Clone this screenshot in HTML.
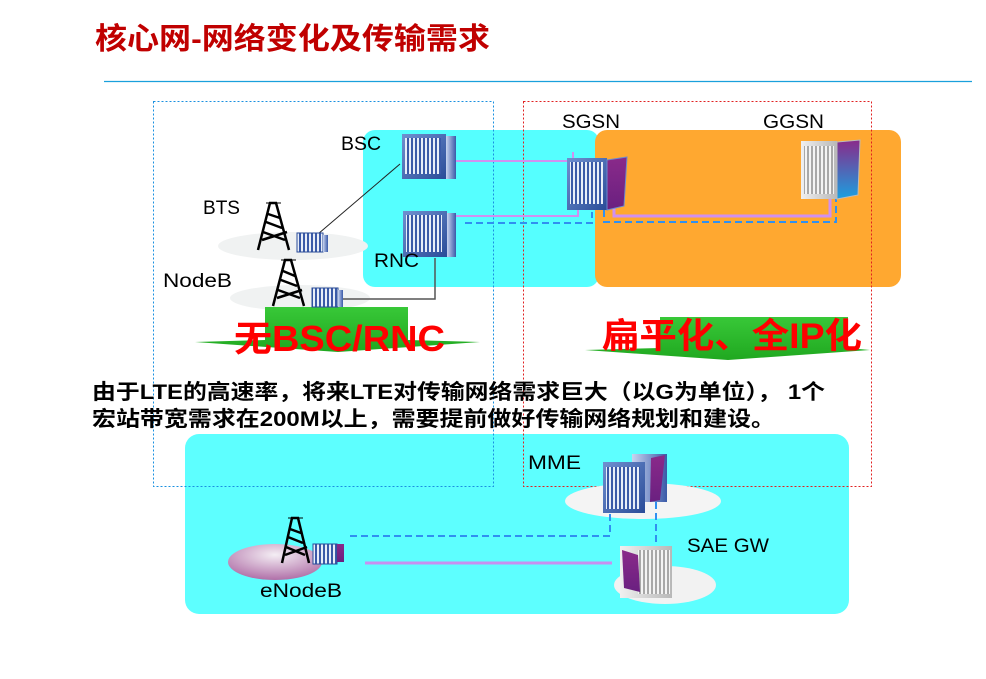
<!DOCTYPE html>
<html><head><meta charset="utf-8"><style>
html,body{margin:0;padding:0;background:#fff;}
svg{display:block;}
text{font-family:"Liberation Sans","Noto Sans CJK SC",sans-serif;}
</style></head><body>
<svg width="986" height="679" viewBox="0 0 986 679" xmlns="http://www.w3.org/2000/svg">
<defs>
<linearGradient id="bl" x1="0" y1="0" x2="1" y2="1"><stop offset="0" stop-color="#7090d0"/><stop offset="1" stop-color="#2a4c98"/></linearGradient>
<linearGradient id="side" x1="0" y1="0" x2="1" y2="0"><stop offset="0" stop-color="#c8d4f0"/><stop offset="1" stop-color="#3a5aa8"/></linearGradient>
<linearGradient id="pur" x1="0" y1="0" x2="0" y2="1"><stop offset="0" stop-color="#8a2a8a"/><stop offset="1" stop-color="#6a2080"/></linearGradient>
<linearGradient id="pb" x1="0" y1="0" x2="0" y2="1"><stop offset="0" stop-color="#8a2a8a"/><stop offset="1" stop-color="#1aa0e0"/></linearGradient>
<linearGradient id="gr" x1="0" y1="0" x2="1" y2="0"><stop offset="0" stop-color="#f0f0f0"/><stop offset="1" stop-color="#b8b8b8"/></linearGradient>
<linearGradient id="grn" x1="0" y1="0" x2="0" y2="1"><stop offset="0" stop-color="#38c838"/><stop offset="1" stop-color="#20a820"/></linearGradient>
<radialGradient id="pk" cx="0.5" cy="0.3" r="0.7"><stop offset="0" stop-color="#f4eef4"/><stop offset="1" stop-color="#b070a8"/></radialGradient>
<pattern id="vl" width="4" height="10" patternUnits="userSpaceOnUse"><rect width="4" height="10" fill="#3a5aa8"/><rect x="1" width="2" height="10" fill="#e8eef8"/></pattern>
<pattern id="vg" width="4" height="10" patternUnits="userSpaceOnUse"><rect width="4" height="10" fill="#a8a8a8"/><rect x="1" width="2" height="10" fill="#f4f4f4"/></pattern>
</defs>

<text x="95" y="49" font-size="30" font-weight="bold" fill="#c00000" textLength="395" lengthAdjust="spacingAndGlyphs">核心网-网络变化及传输需求</text>
<line x1="104" y1="81.5" x2="972" y2="81.5" stroke="#1aa0dc" stroke-width="1.2"/>

<rect x="363" y="130" width="236" height="157" rx="12" fill="#55ffff"/>
<rect x="595" y="130" width="306" height="157" rx="12" fill="#ffa830"/>
<rect x="185" y="434" width="664" height="180" rx="14" fill="#5dffff"/>

<rect x="153.5" y="101.5" width="340" height="385" fill="none" stroke="#1a90e0" stroke-width="1" stroke-dasharray="2,2"/>
<rect x="523.5" y="101.5" width="348" height="385" fill="none" stroke="#e02020" stroke-width="1" stroke-dasharray="2,2"/>

<ellipse cx="293" cy="246" rx="75" ry="14" fill="#f0f2f2"/>
<ellipse cx="300" cy="298" rx="70" ry="13" fill="#f0f2f2"/>
<ellipse cx="275" cy="562" rx="47" ry="18" fill="url(#pk)"/>
<ellipse cx="643" cy="501" rx="78" ry="18" fill="#f4f4f4"/>
<ellipse cx="665" cy="585" rx="51" ry="19" fill="#f2f2f2"/>

<path d="M195 342 L265 340 L265 307 L408 307 L408 340 L480 342 L338 352 Z" fill="url(#grn)"/>
<path d="M585 350 L660 348 L660 317 L848 317 L848 348 L870 350 L728 360 Z" fill="url(#grn)"/>

<line x1="318" y1="234" x2="400" y2="164" stroke="#222" stroke-width="1"/>
<polyline points="342,299 435,299 435,258" fill="none" stroke="#555" stroke-width="1.5"/>
<polyline points="448,161 573,161 573,152" fill="none" stroke="#d090f0" stroke-width="2"/>
<polyline points="453,216 578,216 578,206" fill="none" stroke="#d090f0" stroke-width="2"/>
<polyline points="465,223 592,223 592,212" fill="none" stroke="#3090f0" stroke-width="2" stroke-dasharray="7,4"/>
<polyline points="614,208 614,216 830,216 830,198" fill="none" stroke="#d090f0" stroke-width="3"/>
<polyline points="604,210 604,222 836,222 836,198" fill="none" stroke="#3090f0" stroke-width="2" stroke-dasharray="7,4"/>
<polyline points="350,536 610,536 610,513" fill="none" stroke="#3090f0" stroke-width="2" stroke-dasharray="7,4"/>
<line x1="656" y1="502" x2="656" y2="545" stroke="#3090f0" stroke-width="2" stroke-dasharray="7,4"/>
<line x1="365" y1="563" x2="612" y2="563" stroke="#c890f0" stroke-width="3"/>

<g stroke="#000" stroke-width="2.5" fill="none">
<path d="M258 250 L270 203 L276 203 L289 250 M263 232 L285 240 M266 222 L282 228 M268 214 L280 218 M262 240 L287 232"/>
<path d="M273 306 L285 260 L291 260 L304 306 M278 290 L300 298 M281 280 L297 286 M283 271 L295 276 M277 298 L302 290"/>
<path d="M282 563 L292 518 L298 518 L309 563 M286 547 L305 555 M288 537 L303 543 M290 529 L301 533 M285 555 L307 547"/>
</g>
<g stroke="#000" stroke-width="1"><line x1="266" y1="203" x2="281" y2="203"/><line x1="281" y1="260" x2="296" y2="260"/><line x1="288" y1="518" x2="303" y2="518"/></g>

<g><rect x="297" y="233" width="26" height="19" fill="url(#vl)" stroke="#2a4c98"/><rect x="323" y="235" width="5" height="17" fill="url(#side)"/></g>
<g><rect x="312" y="288" width="26" height="19" fill="url(#vl)" stroke="#2a4c98"/><rect x="338" y="290" width="5" height="17" fill="url(#side)"/></g>
<g><rect x="313" y="544" width="24" height="20" fill="url(#vl)" stroke="#2a4c98"/><rect x="337" y="544" width="7" height="18" fill="url(#pur)"/></g>

<g><rect x="402" y="134" width="44" height="45" fill="url(#bl)"/><rect x="405" y="138" width="36" height="36" fill="url(#vl)"/><rect x="446" y="136" width="10" height="43" fill="url(#side)"/></g>
<g><rect x="403" y="211" width="44" height="46" fill="url(#bl)"/><rect x="406" y="215" width="36" height="37" fill="url(#vl)"/><rect x="447" y="213" width="9" height="44" fill="url(#side)"/></g>
<g><rect x="567" y="158" width="40" height="52" fill="url(#bl)"/><rect x="570" y="162" width="33" height="42" fill="url(#vl)"/><path d="M607 160 L627 157 L624 206 L607 210 Z" fill="url(#pur)" stroke="#6a8ad0"/></g>
<g><rect x="801" y="141" width="36" height="58" fill="url(#gr)"/><rect x="804" y="146" width="30" height="48" fill="url(#vg)"/><path d="M837 142 L860 140 L858 195 L837 199 Z" fill="url(#pb)" stroke="#bbb"/></g>
<g><rect x="632" y="454" width="35" height="48" fill="url(#side)"/><rect x="603" y="462" width="42" height="51" fill="url(#bl)"/><rect x="606" y="467" width="34" height="42" fill="url(#vl)"/><path d="M651 458 L665 455 L660 500 L650 502 Z" fill="url(#pur)"/></g>
<g><rect x="620" y="546" width="52" height="52" fill="url(#gr)"/><rect x="638" y="550" width="32" height="44" fill="url(#vg)"/><path d="M622 550 L638 555 L640 592 L624 588 Z" fill="url(#pur)"/></g>

<g font-size="19" fill="#000" lengthAdjust="spacingAndGlyphs">
<text x="341" y="150" textLength="40" lengthAdjust="spacingAndGlyphs">BSC</text>
<text x="203" y="214" textLength="37" lengthAdjust="spacingAndGlyphs">BTS</text>
<text x="374" y="267" textLength="45" lengthAdjust="spacingAndGlyphs">RNC</text>
<text x="163" y="287" textLength="69" lengthAdjust="spacingAndGlyphs">NodeB</text>
<text x="562" y="128" textLength="58" lengthAdjust="spacingAndGlyphs">SGSN</text>
<text x="763" y="128" textLength="61" lengthAdjust="spacingAndGlyphs">GGSN</text>
<text x="528" y="469" textLength="53" lengthAdjust="spacingAndGlyphs">MME</text>
<text x="687" y="552" textLength="82" lengthAdjust="spacingAndGlyphs">SAE GW</text>
<text x="260" y="597" textLength="82" lengthAdjust="spacingAndGlyphs">eNodeB</text>
</g>

<text x="234" y="351" font-size="36" font-weight="bold" fill="#ff0000" textLength="211" lengthAdjust="spacingAndGlyphs">无BSC/RNC</text>
<text x="602" y="348" font-size="35" font-weight="bold" fill="#ff0000" textLength="260" lengthAdjust="spacingAndGlyphs">扁平化、全IP化</text>

<text x="92" y="399" font-size="21" font-weight="bold" fill="#000" textLength="733" lengthAdjust="spacingAndGlyphs">由于LTE的高速率，将来LTE对传输网络需求巨大（以G为单位）， 1个</text>
<text x="92" y="426" font-size="21" font-weight="bold" fill="#000" textLength="683" lengthAdjust="spacingAndGlyphs">宏站带宽需求在200M以上，需要提前做好传输网络规划和建设。</text>
</svg>
</body></html>
